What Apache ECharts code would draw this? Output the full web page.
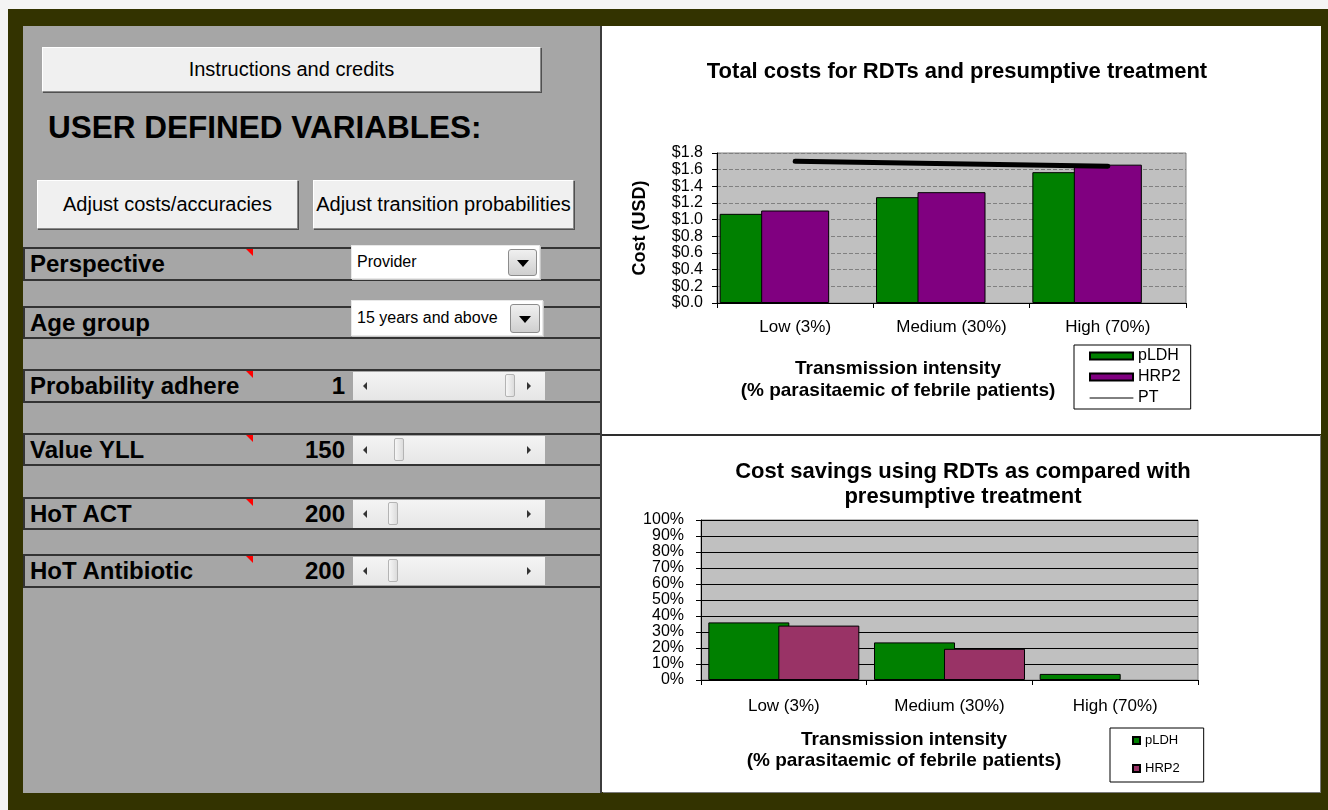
<!DOCTYPE html>
<html>
<head>
<meta charset="utf-8">
<title>RDT cost model</title>
<script src="https://cdn.jsdelivr.net/npm/echarts@6/dist/echarts.min.js"></script>
<style>
  body {
    margin: 0;
    width: 1328px;
    height: 810px;
    position: relative;
    overflow: hidden;
    background: #f4f4f4;
    font-family: Arial, "Liberation Sans", sans-serif;
    color: #000;
  }
  .frame { position: absolute; left: 8px; top: 9px; width: 1320px; height: 801px; background: #333300; }
  .panel {
    position: absolute; left: 23px; top: 26px; width: 577px; height: 767px;
    background: #a6a6a6; border-right: 2px solid #3c3c3c;
  }
  .btn {
    position: absolute; box-sizing: border-box;
    display: flex; align-items: center; justify-content: center;
    background: #f0f0f0; font-size: 20px;
    border: 1px solid #fff; border-right-color: #8a8a8a; border-bottom-color: #8a8a8a;
    box-shadow: 1px 1px 0 #505050;
  }
  .heading { position: absolute; left: 25px; top: 84px; font-size: 31.5px; font-weight: bold; line-height: 34px; }
  .row {
    position: absolute; left: 0; width: 577px; box-sizing: border-box;
    border-top: 2px solid #333; border-bottom: 2px solid #333; border-left: 2px solid #333;
  }
  .row .label { position: absolute; left: 5px; top: 0; font-size: 24px; font-weight: bold; }
  .row .note {
    position: absolute; left: 221px; top: 0; width: 0; height: 0;
    border-top: 7px solid #ff0000; border-left: 7px solid transparent;
  }
  .row .num { position: absolute; left: 220px; width: 100px; top: 0; text-align: right; font-size: 24px; font-weight: bold; }
  .scroll {
    position: absolute; left: 328px; top: 1px; width: 192px; height: 28px;
    background: linear-gradient(#f4f4f4, #e6e6e6);
  }
  .scroll .left, .scroll .right { position: absolute; top: 10px; width: 0; height: 0; border-top: 4px solid transparent; border-bottom: 4px solid transparent; }
  .scroll .left { left: 10px; border-right: 4px solid #333; }
  .scroll .right { right: 14px; border-left: 4px solid #333; }
  .scroll .thumb {
    position: absolute; top: 2px; width: 10px; height: 23px; box-sizing: border-box;
    background: linear-gradient(to right, #f6f6f6, #dcdcdc);
    border: 1px solid #b4b4b4; border-radius: 2px;
  }
  .combo {
    position: absolute; box-sizing: border-box; background: #fff;
    border: 1px solid #e8e8e8; box-shadow: 1px 1px 0 #c8c8c8;
    font-size: 16px;
  }
  .combo .text { position: absolute; left: 5px; top: 0; }
  .combo .arrow {
    position: absolute; top: 3px; box-sizing: border-box;
    background: linear-gradient(#f0f0f0, #cfcfcf); border: 1px solid #8c8c8c; border-radius: 3px;
  }
  .combo .arrow::after {
    content: ""; position: absolute; left: 50%; top: 50%; margin-left: -6px; margin-top: -3px;
    border-left: 6px solid transparent; border-right: 6px solid transparent; border-top: 7px solid #000;
  }
  #cost-chart { position: absolute; left: 602px; top: 26px; width: 719px; height: 408px; background: #fff; }
  #saving-chart {
    position: absolute; left: 602px; top: 436px; width: 718px; height: 356px; background: #fff;
    border-top: 2px solid #2e2e2e; margin-top: -2px; box-shadow: 1px 1px 0 #7a7a7a;
  }
</style>
</head>
<body>
<div class="frame"></div>

<div class="panel">
  <div class="btn" style="left:19px;top:21px;width:499px;height:45px;">Instructions and credits</div>
  <div class="heading">USER DEFINED VARIABLES:</div>
  <div class="btn" style="left:14px;top:154px;width:261px;height:49px;">Adjust costs/accuracies</div>
  <div class="btn" style="left:290px;top:154px;width:261px;height:49px;">Adjust transition probabilities</div>

  <div class="row" style="top:221px;height:34px;">
    <div class="label" style="line-height:30px;">Perspective</div><div class="note"></div>
  </div>
  <div class="row" style="top:280px;height:33px;">
    <div class="label" style="line-height:29px;">Age group</div>
  </div>
  <div class="row" style="top:343px;height:34px;">
    <div class="label" style="line-height:30px;">Probability adhere</div><div class="note"></div>
    <div class="num" style="line-height:30px;">1</div>
    <div class="scroll"><div class="left"></div><div class="thumb" style="left:152px;"></div><div class="right"></div></div>
  </div>
  <div class="row" style="top:407px;height:33px;">
    <div class="label" style="line-height:29px;">Value YLL</div><div class="note"></div>
    <div class="num" style="line-height:29px;">150</div>
    <div class="scroll"><div class="left"></div><div class="thumb" style="left:41px;"></div><div class="right"></div></div>
  </div>
  <div class="row" style="top:471px;height:33px;">
    <div class="label" style="line-height:29px;">HoT ACT</div><div class="note"></div>
    <div class="num" style="line-height:29px;">200</div>
    <div class="scroll"><div class="left"></div><div class="thumb" style="left:35px;"></div><div class="right"></div></div>
  </div>
  <div class="row" style="top:528px;height:34px;">
    <div class="label" style="line-height:30px;">HoT Antibiotic</div><div class="note"></div>
    <div class="num" style="line-height:30px;">200</div>
    <div class="scroll"><div class="left"></div><div class="thumb" style="left:35px;"></div><div class="right"></div></div>
  </div>

  <div class="combo" style="left:328px;top:219px;width:189px;height:34px;">
    <div class="text" style="line-height:32px;">Provider</div>
    <div class="arrow" style="left:156px;width:29px;height:27px;"></div>
  </div>
  <div class="combo" style="left:328px;top:274px;width:192px;height:36px;">
    <div class="text" style="line-height:34px;">15 years and above</div>
    <div class="arrow" style="left:158px;width:30px;height:29px;"></div>
  </div>
</div>

<div id="cost-chart"></div>
<div id="saving-chart"></div>

<script>
const categories = ["Low (3%)", "Medium (30%)", "High (70%)"];

// total cost per patient (USD)
const costPLDH = [1.07, 1.27, 1.57];
const costHRP2 = [1.11, 1.33, 1.66];
const costPT = [1.7, 1.67, 1.64];

// savings compared with presumptive treatment (%), no HRP2 bar at high
const savingPLDH = [36, 23.5, 3.8];
const savingHRP2 = [34, 19.5, null];

const FONT = "Arial, 'Liberation Sans', sans-serif";
const GREEN = "#008000";

function axisText(size, bold) {
  return { fontFamily: FONT, fontSize: size, color: "#000", fontWeight: bold ? "bold" : "normal" };
}

document.addEventListener("DOMContentLoaded", function () {
  drawCostChart();
  drawSavingChart();
});

function drawCostChart() {
  const chart = echarts.init(document.getElementById("cost-chart"), null, { renderer: "canvas" });

  chart.setOption({
    animation: false,
    textStyle: { fontFamily: FONT, color: "#000" },
    title: [
      {
        text: "Total costs for RDTs and presumptive treatment",
        left: 355, top: 35, padding: 0, textAlign: "center",
        textStyle: axisText(22, true),
      },
      {
        text: "Transmission intensity\n(% parasitaemic of febrile patients)",
        left: 296, top: 332, padding: 0, textAlign: "center",
        textStyle: Object.assign(axisText(19, true), { lineHeight: 22 }),
      },
    ],
    legend: {
      orient: "vertical",
      left: 472, top: 319,
      padding: [3, 10, 3, 15],
      itemWidth: 43, itemHeight: 7, itemGap: 5,
      backgroundColor: "#fff", borderColor: "#000", borderWidth: 1,
      textStyle: Object.assign(axisText(16), { lineHeight: 16 }),
      data: [
        { name: "pLDH", icon: "rect" },
        { name: "HRP2", icon: "rect" },
        // plain line, no marker
        { name: "PT", itemStyle: { opacity: 0 }, lineStyle: { width: 1 } },
      ],
    },
    grid: {
      left: 115, top: 127, width: 469, height: 150,
      show: true, backgroundColor: "#c0c0c0", borderColor: "#808080", borderWidth: 1,
      outerBoundsMode: "none",
    },
    xAxis: {
      type: "category",
      data: categories,
      axisLine: { lineStyle: { color: "#000", width: 1 } },
      axisTick: { show: true, length: 5, lineStyle: { color: "#000" } },
      axisLabel: Object.assign(axisText(17), { margin: 16 }),
      splitLine: { show: false },
    },
    yAxis: {
      type: "value",
      min: 0, max: 1.8, interval: 0.2,
      name: "Cost (USD)",
      nameLocation: "middle",
      nameGap: 68,
      nameTextStyle: axisText(18, true),
      axisLine: { show: true, lineStyle: { color: "#000", width: 1 } },
      axisTick: { show: true, length: 5, lineStyle: { color: "#000" } },
      axisLabel: Object.assign(axisText(16), {
        margin: 14,
        lineHeight: 12,
        formatter: (v) => "$" + v.toFixed(1),
      }),
      splitLine: { show: true, lineStyle: { color: "#808080", type: [4, 2] } },
    },
    series: [
      {
        name: "pLDH", type: "bar", data: costPLDH,
        barWidth: 68, barGap: "-39%",
        itemStyle: { color: GREEN, borderColor: "#000", borderWidth: 1 },
      },
      {
        name: "HRP2", type: "bar", data: costHRP2,
        barWidth: 68, barGap: "-39%",
        itemStyle: { color: "#800080", borderColor: "#000", borderWidth: 1 },
      },
      {
        // empty slot the workbook keeps in the bar group (shifts bars left)
        name: "", type: "bar", data: [], silent: true,
        barWidth: 68, barGap: "-39%",
      },
      {
        name: "PT", type: "line", data: costPT,
        symbol: "none", z: 5,
        itemStyle: { color: "#000" },
        lineStyle: { color: "#000", width: 5, cap: "round" },
      },
    ],
  });
}

function drawSavingChart() {
  const chart = echarts.init(document.getElementById("saving-chart"), null, { renderer: "canvas" });

  chart.setOption({
    animation: false,
    textStyle: { fontFamily: FONT, color: "#000" },
    title: [
      {
        text: "Cost savings using RDTs as compared with\npresumptive treatment",
        left: 361, top: 23, padding: 0, textAlign: "center",
        textStyle: Object.assign(axisText(22, true), { lineHeight: 25 }),
      },
      {
        text: "Transmission intensity\n(% parasitaemic of febrile patients)",
        left: 302, top: 293, padding: 0, textAlign: "center",
        textStyle: Object.assign(axisText(19, true), { lineHeight: 21 }),
      },
    ],
    legend: {
      orient: "vertical",
      left: 508, top: 292,
      padding: [6, 24, 7, 22],
      itemWidth: 7, itemHeight: 7, itemGap: 15,
      backgroundColor: "#fff", borderColor: "#000", borderWidth: 1,
      textStyle: Object.assign(axisText(13), { lineHeight: 13 }),
      data: [
        { name: "pLDH", icon: "rect" },
        { name: "HRP2", icon: "rect" },
      ],
    },
    grid: {
      left: 99, top: 84, width: 497, height: 160,
      show: true, backgroundColor: "#c0c0c0", borderColor: "#808080", borderWidth: 1,
      outerBoundsMode: "none",
    },
    xAxis: {
      type: "category",
      data: categories,
      axisLine: { lineStyle: { color: "#000", width: 1 } },
      axisTick: { show: true, length: 5, lineStyle: { color: "#000" } },
      axisLabel: Object.assign(axisText(17), { margin: 18 }),
      splitLine: { show: false },
    },
    yAxis: {
      type: "value",
      min: 0, max: 100, interval: 10,
      axisLine: { show: true, lineStyle: { color: "#000", width: 1 } },
      axisTick: { show: true, length: 5, lineStyle: { color: "#000" } },
      axisLabel: Object.assign(axisText(16), {
        margin: 17,
        lineHeight: 13,
        formatter: (v) => v + "%",
      }),
      splitLine: { show: true, lineStyle: { color: "#000", width: 1 } },
    },
    series: [
      {
        name: "pLDH", type: "bar", data: savingPLDH,
        barWidth: 81, barGap: "-13.6%",
        itemStyle: { color: GREEN, borderColor: "#000", borderWidth: 1 },
      },
      {
        name: "HRP2", type: "bar", data: savingHRP2,
        barWidth: 81, barGap: "-13.6%",
        itemStyle: { color: "#993366", borderColor: "#000", borderWidth: 1 },
      },
    ],
  });
}
</script>
</body>
</html>
